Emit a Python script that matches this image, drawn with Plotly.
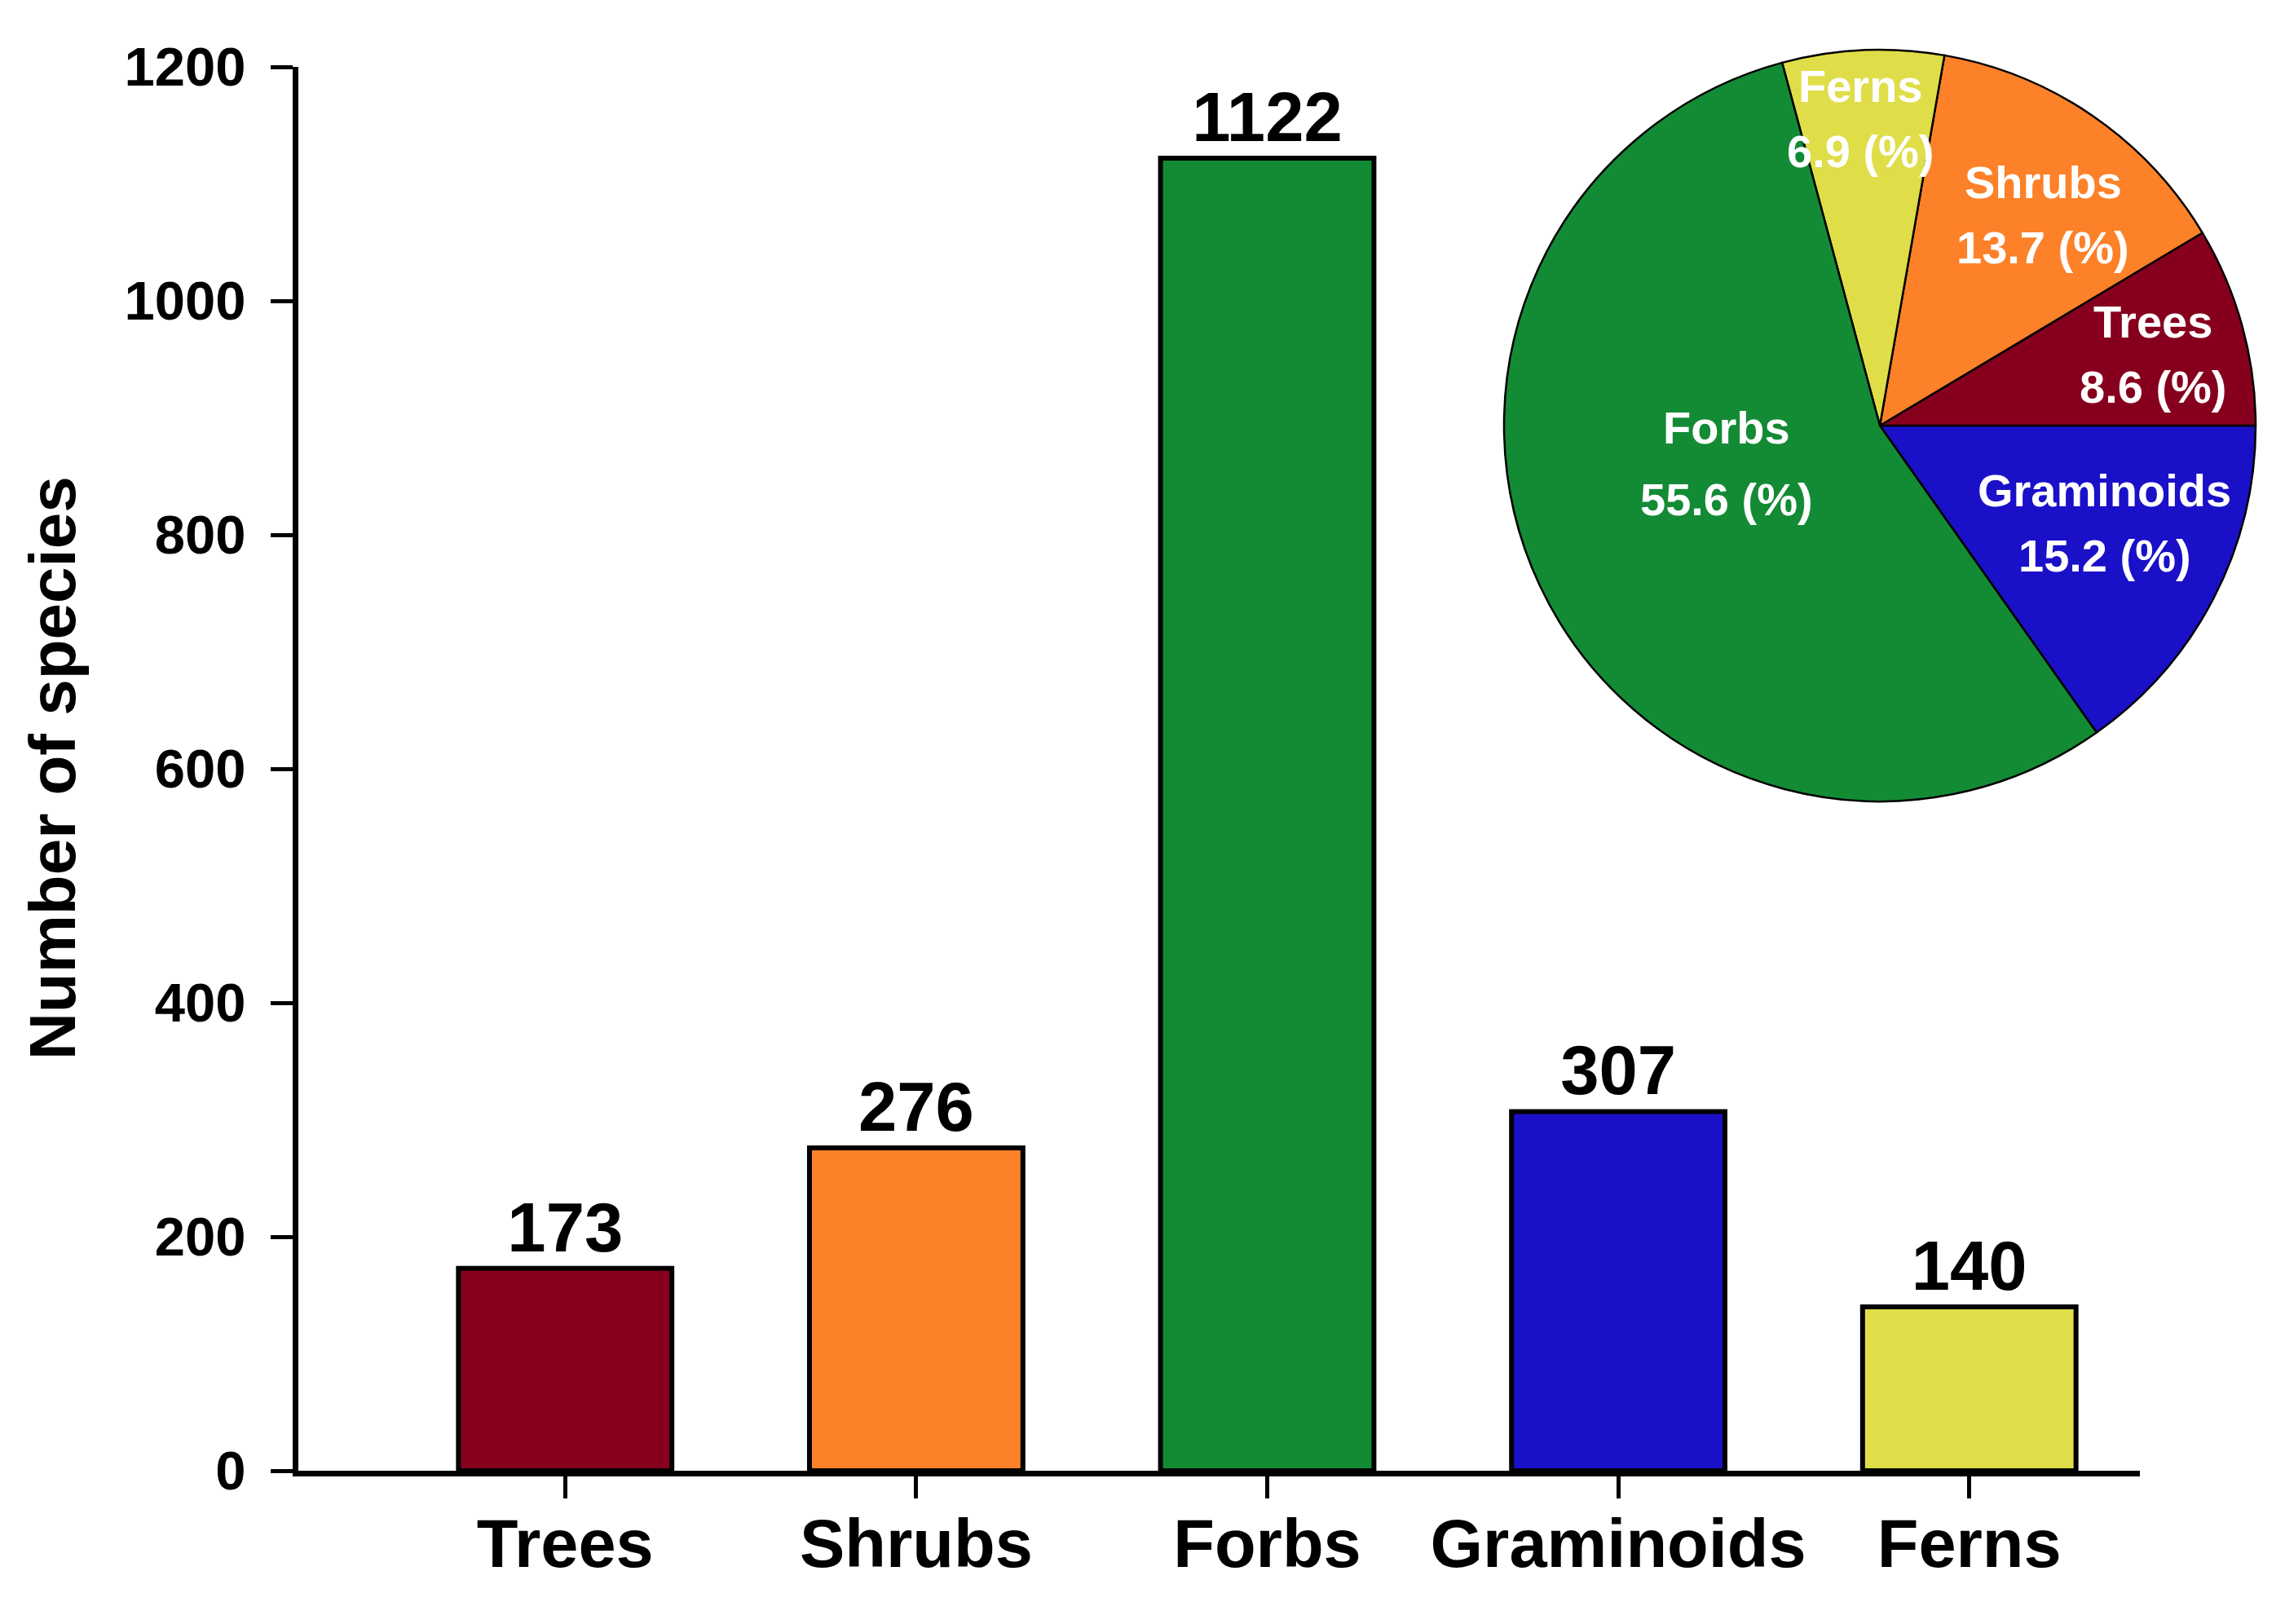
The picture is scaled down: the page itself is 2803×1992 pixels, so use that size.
import plotly.graph_objects as go

# growth forms and species counts (bar chart)
categories = ["Trees", "Shrubs", "Forbs", "Graminoids", "Ferns"]
counts = [173, 276, 1122, 307, 140]
colors = ["#86001E", "#FC8128", "#138B35", "#1A10C8", "#DFDE49"]

# pie slice order; plotly ends the first slice at the rotation angle when
# going counter-clockwise, so Graminoids sits just below 3 o'clock
pie_order = ["Graminoids", "Trees", "Shrubs", "Ferns", "Forbs"]

y_ticks = [0, 200, 400, 600, 800, 1000, 1200]

W, H = 2803, 1992
FONT = "Liberation Sans, Arial, sans-serif"
OFF = 8  # browser body margin, targets below are page pixels

# plot area (page pixels): left edge, bottom edge
PLOT_L, PLOT_B = 366, 1804
L, R, T = PLOT_L - OFF, 20, 12
B = H - (PLOT_B - OFF)
PW, PH = W - L - R, H - T - B


def px_to_paper(px, py):
    return (px - OFF - L) / PW, (H - B - (py - OFF)) / PH


count_of = dict(zip(categories, counts))
color_of = dict(zip(categories, colors))
pie_values = [count_of[c] for c in pie_order]
total = sum(pie_values)
pie_pct = [round(100 * v / total, 1) for v in pie_values]

fig = go.Figure()

fig.add_trace(go.Bar(
    x=categories,
    y=counts,
    marker=dict(color=colors, line=dict(color="black", width=6)),
    width=0.608,
    text=[str(v) for v in counts],
    textposition="outside",
    textfont=dict(family=FONT, size=85, color="black", weight="bold"),
    constraintext="none",
    cliponaxis=False,
    showlegend=False,
))

# pie inset geometry (page pixels)
cx, cy, rad = 2306, 522, 461
x0, y0 = px_to_paper(cx - rad, cy + rad)
x1, y1 = px_to_paper(cx + rad, cy - rad)

fig.add_trace(go.Pie(
    labels=pie_order,
    values=pie_values,
    sort=False,
    direction="counterclockwise",
    rotation=90,
    marker=dict(colors=[color_of[c] for c in pie_order],
                line=dict(color="black", width=2.5)),
    textinfo="none",
    domain=dict(x=[x0, x1], y=[y0, y1]),
    showlegend=False,
))

# label centres as fractions of the radius (dx right, dy up)
label_pos = {
    "Trees": (0.727, 0.189),
    "Shrubs": (0.434, 0.56),
    "Ferns": (-0.05, 0.817),
    "Forbs": (-0.408, -0.10),
    "Graminoids": (0.598, -0.259),
}
line_gap = {"Forbs": 88}

annotations = []
for name, pct in zip(pie_order, pie_pct):
    fx, fy = label_pos[name]
    lx = cx + fx * rad
    ly = cy - fy * rad
    gap = line_gap.get(name, 80)
    for txt, off in [(name, -gap / 2), (f"{pct} (%)", gap / 2)]:
        ax, ay = px_to_paper(lx, ly + off)
        annotations.append(dict(
            x=ax, y=ay, xref="paper", yref="paper",
            text=txt, showarrow=False, xanchor="center", yanchor="middle",
            font=dict(family=FONT, size=56, color="white", weight="bold"),
        ))

# y-axis title
tx, ty = px_to_paper(64, 942)
annotations.append(dict(
    x=tx, y=ty, xref="paper", yref="paper", text="Number of species",
    textangle=-90, showarrow=False, xanchor="center", yanchor="middle",
    font=dict(family=FONT, size=80, color="black", weight="bold"),
))

fig.update_layout(
    width=W, height=H,
    margin=dict(l=L, r=R, t=T, b=B, pad=0, autoexpand=False),
    paper_bgcolor="white",
    plot_bgcolor="white",
    annotations=annotations,
    xaxis=dict(
        domain=[0, (2625 - OFF - L) / PW],
        range=[-0.76, 4.486],
        automargin=False,
        showline=True, linecolor="black", linewidth=7,
        ticks="outside", ticklen=27, tickwidth=5, tickcolor="black",
        tickfont=dict(family=FONT, size=83, color="black", weight="bold"),
        ticklabelstandoff=-16,
        showgrid=False, zeroline=False,
    ),
    yaxis=dict(
        domain=[0, (PLOT_B - 82) / PH],
        range=[0, 1200],
        automargin=False,
        tickvals=y_ticks,
        showline=True, linecolor="black", linewidth=7,
        ticks="outside", ticklen=27, tickwidth=5, tickcolor="black",
        tickfont=dict(family=FONT, size=67, color="black", weight="bold"),
        ticklabelstandoff=17,
        showgrid=False, zeroline=False,
    ),
)

fig.write_html("out.html")
